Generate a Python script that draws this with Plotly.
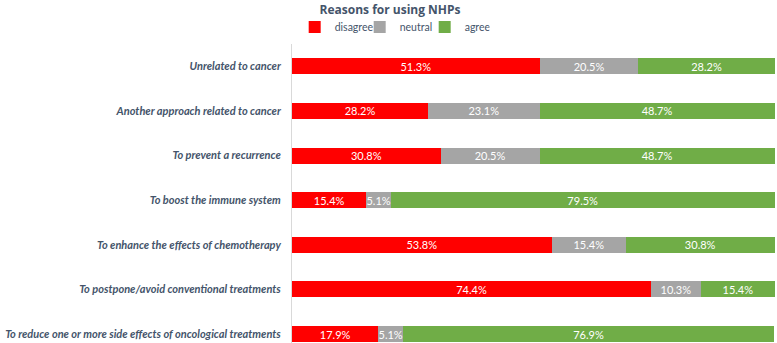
import plotly.graph_objects as go

categories = [
    "Unrelated to cancer",
    "Another approach related to cancer",
    "To prevent a recurrence",
    "To boost the immune system",
    "To enhance the effects of chemotherapy",
    "To postpone/avoid conventional treatments",
    "To reduce one or more side effects of oncological treatments",
]
disagree = [51.3, 28.2, 30.8, 15.4, 53.8, 74.4, 17.9]
neutral = [20.5, 23.1, 20.5, 5.1, 15.4, 10.3, 5.1]
agree = [28.2, 48.7, 48.7, 79.5, 30.8, 15.4, 76.9]

series = [("disagree", disagree, "#FF0000"), ("neutral", neutral, "#A5A5A5"), ("agree", agree, "#70AD47")]

FONT = "Lato"

fig = go.Figure()
for name, vals, col in series:
    fig.add_trace(go.Bar(
        y=categories, x=vals, name=name, orientation="h",
        marker=dict(color=col, line=dict(width=0)),
        width=0.36,
        text=[f"{v:.1f}%" for v in vals], textposition="inside",
        insidetextanchor="middle", constraintext="none",
        textfont=dict(color="white", size=11, family=FONT),
        texttemplate="%{text}",
        cliponaxis=False,
    ))

fig.update_layout(
    width=777, height=343,
    barmode="stack",
    margin=dict(l=292, r=1, t=44, b=0, autoexpand=False),
    plot_bgcolor="white", paper_bgcolor="white",
    font=dict(family=FONT, color="#44546A"),
    title=dict(text="<b>Reasons for using NHPs</b>", x=0.502, xanchor="center",
               y=0.97, yanchor="middle",
               font=dict(size=12, color="#44546A", family="Open Sans")),
    legend=dict(orientation="h", x=0.207, xanchor="center", y=1.057, yanchor="middle",
                font=dict(size=10.5, color="#44546A", family=FONT),
                traceorder="normal", itemclick=False, itemwidth=30,
                entrywidth=20, entrywidthmode="pixels"),
    showlegend=True,
)
fig.update_xaxes(range=[0, 100.3], showgrid=False, showticklabels=False, zeroline=False,
                 fixedrange=True, automargin=False)
fig.update_yaxes(range=[6.2, -0.5], showgrid=False, zeroline=False, showline=True,
                 linecolor="#D9D9D9", linewidth=1, ticks="",
                 tickfont=dict(size=11, color="#44546A", family=FONT),
                 ticklabelstandoff=8, automargin=False)
fig.update_yaxes(tickvals=categories,
                 ticktext=[f"<b><i>{c}</i></b>" for c in categories])

fig.write_html("out.html", config={"displayModeBar": False},
               post_script="document.body.style.margin='0px';")
